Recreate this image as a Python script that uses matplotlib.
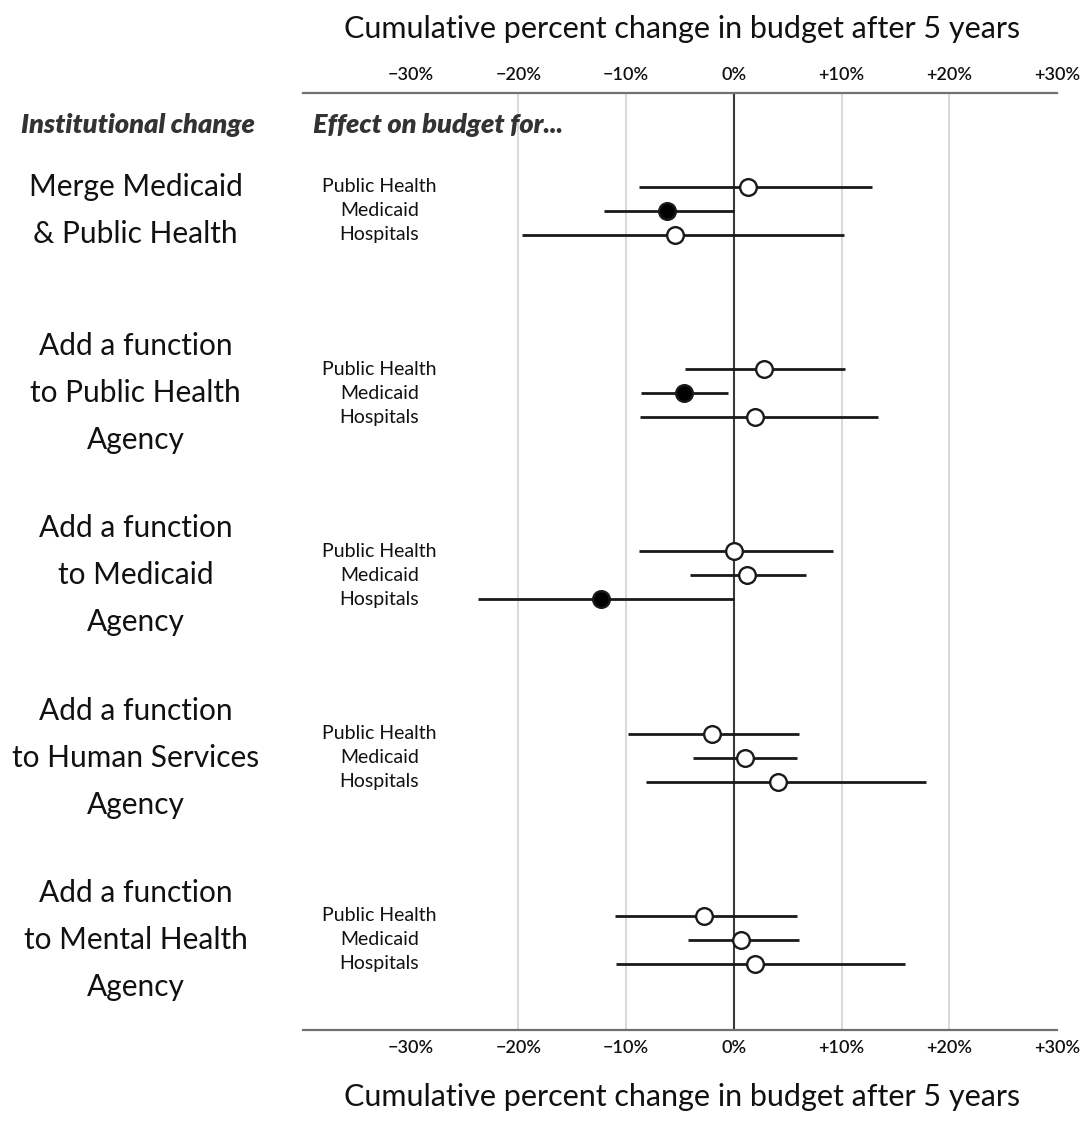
import matplotlib.pyplot as plt
from matplotlib.transforms import blended_transform_factory

plt.rcParams['font.family'] = ['Lato', 'DejaVu Sans']

# institutional changes (one block each) and the budgets they affect
changes = [
    ["Merge Medicaid", "& Public Health"],
    ["Add a function", "to Public Health", "Agency"],
    ["Add a function", "to Medicaid", "Agency"],
    ["Add a function", "to Human Services", "Agency"],
    ["Add a function", "to Mental Health", "Agency"],
]
budgets = ["Public Health", "Medicaid", "Hospitals"]

# point estimates and interval ends, % change after 5 years
estimate = [
    [1.3, -6.2, -5.5],
    [2.8, -4.6, 2.0],
    [0.0, 1.2, -12.3],
    [-2.0, 1.0, 4.1],
    [-2.8, 0.7, 2.0],
]
low = [
    [-8.8, -12.1, -19.7],
    [-4.5, -8.6, -8.7],
    [-8.8, -4.1, -23.8],
    [-9.8, -3.8, -8.2],
    [-11.0, -4.3, -10.9],
]
high = [
    [12.8, 0.0, 10.2],
    [10.3, -0.5, 13.4],
    [9.2, 6.7, 0.0],
    [6.0, 5.9, 17.8],
    [5.9, 6.0, 15.9],
]
significant = [
    [False, True, False],
    [False, True, False],
    [False, False, True],
    [False, False, False],
    [False, False, False],
]

ticks = [-30, -20, -10, 0, 10, 20, 30]
tick_labels = ["\u221230%", "\u221220%", "\u221210%", "0%", "+10%", "+20%", "+30%"]
axis_title = "Cumulative percent change in budget after 5 years"

fig = plt.figure(figsize=(10.85, 11.21), dpi=100)
ax = fig.add_axes([0.2793, 0.0812, 0.6949, 0.8358])

row_gap = 0.1317   # spacing between the three budget rows
line_gap = 0.258   # spacing between lines of the block labels

for x in [-20, -10, 10, 20]:
    ax.axvline(x, color="#d6d6d6", lw=1.3, zorder=0)
ax.axvline(0, color="#3a3a3a", lw=1.5, zorder=1)

for g in range(len(changes)):
    for r in range(len(budgets)):
        y = g + (r - 1) * row_gap
        ax.plot([low[g][r], high[g][r]], [y, y], color="#1a1a1a", lw=2, zorder=2,
                solid_capstyle="butt")
        face = "black" if significant[g][r] else "white"
        ax.plot(estimate[g][r], y, "o", ms=12, mfc=face, mec="#1a1a1a",
                mew=1.7, zorder=3)
        ax.text(-32.9, y, budgets[r], ha="center", va="center", fontsize=14,
                color="#111111")

trans = blended_transform_factory(fig.transFigure, ax.transData)
for g, lines in enumerate(changes):
    n = len(lines)
    for k, line in enumerate(lines):
        ax.text(0.125, g + (k - (n - 1) / 2) * line_gap, line, transform=trans,
                ha="center", va="center", fontsize=21.5, color="#111111",
                clip_on=False)

# column headers
header_font = dict(fontsize=19.5, fontweight="heavy", fontstyle="italic",
                   color="#333333")
ax.text(0.127, -0.472, "Institutional change", transform=trans, ha="center",
        va="center", clip_on=False, **header_font)
ax.text(-39.1, -0.472, "Effect on budget for...", ha="left", va="center",
        **header_font)

ax.set_xlim(-40, 30)
ax.set_ylim(4.494, -0.647)
ax.set_yticks([])
ax.set_xticks(ticks)
ax.set_xticklabels(tick_labels)
ax.tick_params(axis="x", top=True, labeltop=True, bottom=True, labelbottom=True,
               length=0, pad=7, labelsize=13, colors="#111111")
for lab in ax.get_xticklabels():
    lab.set_fontweight("semibold")

for side in ["left", "right"]:
    ax.spines[side].set_visible(False)
for side in ["top", "bottom"]:
    ax.spines[side].set_color("#707070")
    ax.spines[side].set_linewidth(1.6)

fig.text(0.629, 0.974, axis_title, ha="center", va="center", fontsize=22,
         color="#111111")
fig.text(0.629, 0.021, axis_title, ha="center", va="center", fontsize=22,
         color="#111111")

fig.savefig("out.png", dpi=100)
